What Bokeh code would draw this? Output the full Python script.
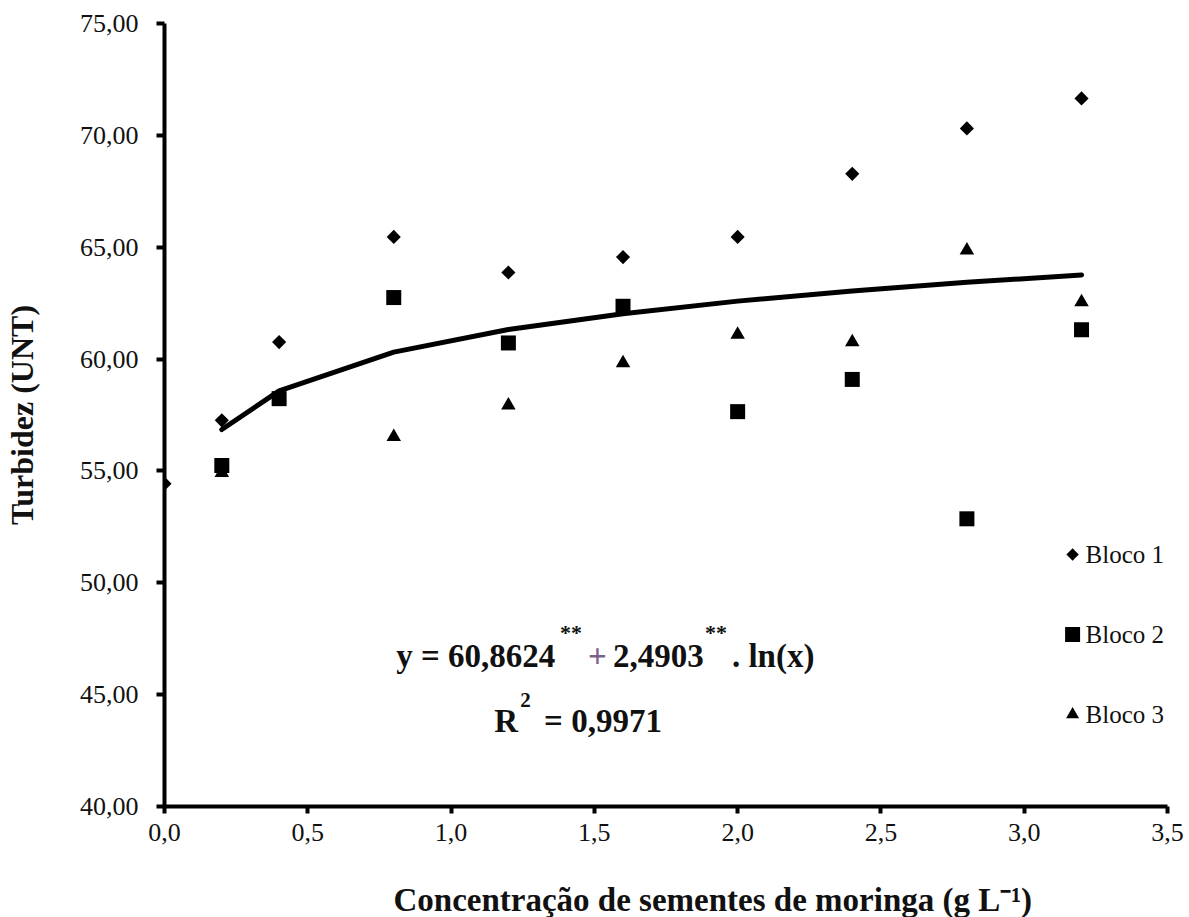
import math
from bokeh.plotting import figure
from bokeh.models import Range1d, FixedTicker, Label, Title
from bokeh.embed import file_html
from bokeh.resources import INLINE

# ---------------- data ----------------
x_bloco1 = [0.0, 0.2, 0.4, 0.8, 1.2, 1.6, 2.0, 2.4, 2.8, 3.2]
y_bloco1 = [54.43, 57.26, 60.76, 65.46, 63.87, 64.56, 65.46, 68.28, 70.31, 71.65]

x_bloco2 = [0.2, 0.4, 0.8, 1.2, 1.6, 2.0, 2.4, 2.8, 3.2]
y_bloco2 = [55.24, 58.23, 62.75, 60.72, 62.36, 57.65, 59.09, 52.86, 61.31]

x_bloco3 = [0.2, 0.4, 0.8, 1.2, 1.6, 2.0, 2.4, 2.8, 3.2]
y_bloco3 = [54.92, 58.23, 56.52, 57.93, 59.82, 61.09, 60.76, 64.86, 62.55]

x_trend = [0.2, 0.4, 0.8, 1.2, 1.6, 2.0, 2.4, 2.8, 3.2]
y_trend = [56.85, 58.58, 60.31, 61.32, 62.03, 62.59, 63.04, 63.43, 63.76]

x_ticks = [0.0, 0.5, 1.0, 1.5, 2.0, 2.5, 3.0, 3.5]
x_tick_labels = ["0,0", "0,5", "1,0", "1,5", "2,0", "2,5", "3,0", "3,5"]
y_ticks = [40, 45, 50, 55, 60, 65, 70, 75]
y_tick_labels = ["40,00", "45,00", "50,00", "55,00", "60,00", "65,00", "70,00", "75,00"]

legend_labels = ["Bloco 1", "Bloco 2", "Bloco 3"]
x_title = "Concentração de sementes de moringa (g L\u207b\u00b9)"
y_title = "Turbidez (UNT)"

FONT = "Liberation Serif"

# ---------------- layout ----------------
W, H = 1189, 917
LEFT, TOP = 163, 23
RIGHT = W - 1167
BOTTOM = H - 806
X0, X1, Y0, Y1 = 0.0, 3.5, 40.0, 75.0
fw = W - LEFT - RIGHT
fh = H - TOP - BOTTOM


def ax(px):
    """canvas pixel x -> data x (for annotation placement)"""
    return X0 + (px - LEFT) * (X1 - X0) / fw


def ay(py):
    """canvas pixel y -> data y (for annotation placement)"""
    return Y0 + (TOP + fh - py) * (Y1 - Y0) / fh


p = figure(width=W, height=H, x_range=Range1d(X0, X1), y_range=Range1d(Y0, Y1),
           output_backend="svg", toolbar_location=None,
           min_border_left=LEFT, min_border_right=RIGHT,
           min_border_top=TOP, min_border_bottom=BOTTOM)
p.outline_line_color = None
p.background_fill_color = "white"
p.border_fill_color = "white"
p.xgrid.visible = False
p.ygrid.visible = False

for axis in (p.xaxis[0], p.yaxis[0]):
    axis.axis_line_width = 4
    axis.axis_line_color = "black"
    axis.major_tick_line_width = 4
    axis.major_tick_line_color = "black"
    axis.major_tick_in = 0
    axis.minor_tick_line_color = None
    axis.major_label_text_font = FONT
    axis.major_label_text_font_size = "26px"
    axis.major_label_text_color = "#111111"

p.xaxis.ticker = FixedTicker(ticks=x_ticks)
p.xaxis.major_label_overrides = dict(zip(x_ticks, x_tick_labels))
p.xaxis.major_tick_out = 7
p.xaxis.major_label_standoff = 10

p.yaxis.ticker = FixedTicker(ticks=y_ticks)
p.yaxis.major_label_overrides = dict(zip(y_ticks, y_tick_labels))
p.yaxis.major_tick_out = 8
p.yaxis.major_label_standoff = 18
p.yaxis.axis_label = y_title
p.yaxis.axis_label_text_font = FONT
p.yaxis.axis_label_text_font_size = "32px"
p.yaxis.axis_label_text_font_style = "bold"
p.yaxis.axis_label_text_color = "#111111"
p.yaxis.axis_label_standoff = 37

# x title: a blank first line pads it down toward the bottom edge
p.add_layout(Title(text="\n" + x_title, align="left", offset=229, standoff=0,
                   text_font=FONT, text_font_size="33px", text_font_style="bold",
                   text_color="#111111"), "below")

# ---------------- data marks ----------------
p.line(x_trend, y_trend, line_width=5, line_color="black",
       line_cap="round", line_join="round")
p.scatter(x_bloco3, y_bloco3, marker="triangle", size=14.5,
          fill_color="black", line_color=None)
p.scatter(x_bloco2, y_bloco2, marker="square", size=15,
          fill_color="black", line_color=None)
p.scatter(x_bloco1, y_bloco1, marker="square", angle=math.pi / 4, size=10,
          fill_color="black", line_color=None)

# ---------------- legend (inside the frame) ----------------
leg_markers = [("square", math.pi / 4, 8.8), ("square", 0.0, 15), ("triangle", 0.0, 13)]
leg_y = [554, 634, 714]
for (mk, ang, sz), lab_text, py in zip(leg_markers, legend_labels, leg_y):
    p.scatter([ax(1072)], [ay(py)], marker=mk, angle=ang, size=sz,
              fill_color="black", line_color=None)
    p.add_layout(Label(x=ax(1085), y=ay(py), text=lab_text, text_font=FONT,
                       text_font_size="25px", text_color="#111111",
                       text_align="left", text_baseline="middle"))


# ---------------- equation ----------------
def lab(text, px, py, size, bold=True, color="#111111", align="left"):
    p.add_layout(Label(x=ax(px), y=ay(py), text=text, text_font=FONT,
                       text_font_size=f"{size}px",
                       text_font_style="bold" if bold else "normal",
                       text_color=color, text_align=align,
                       text_baseline="alphabetic"))


lab("y = 60,8624", 395, 655, 33)
lab("**", 559, 632, 22)
lab("+", 587, 655, 33, color="#7d5f8c")
lab("2,4903", 612, 655, 33)
lab("**", 704, 632, 22)
lab(". ln(x)", 731, 655, 33)

lab("R", 493, 720, 33)
lab("2", 519, 699, 21)
lab("= 0,9971", 543, 720, 33)

open("out.html", "w").write(file_html(p, INLINE))
